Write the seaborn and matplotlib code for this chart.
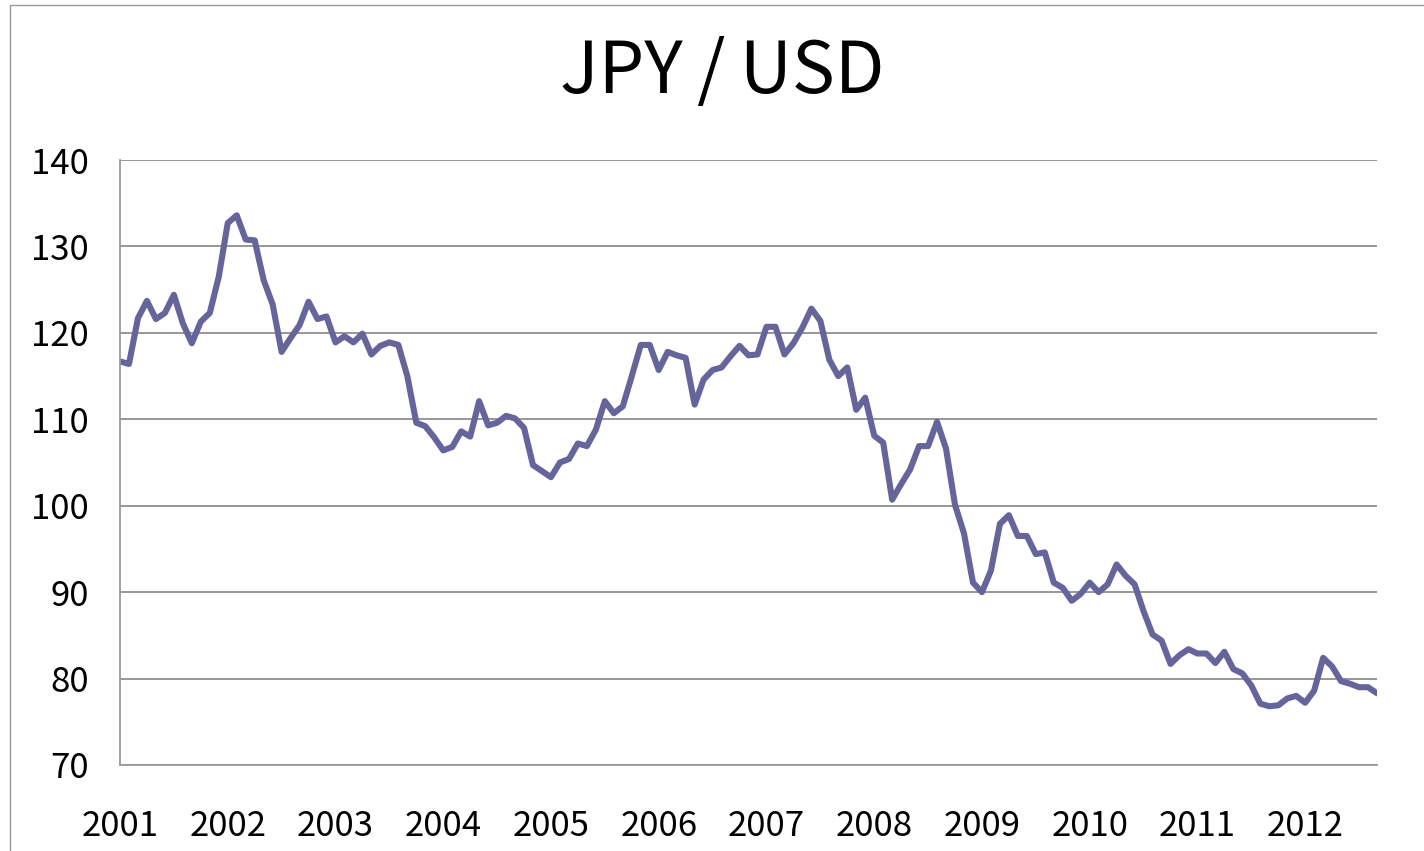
import numpy as np
import pandas as pd
import matplotlib.pyplot as plt
import seaborn as sns
from matplotlib.patches import Rectangle

# monthly JPY per USD, Jan 2001 - Sep 2012
years = [str(y) for y in range(2001, 2013)]
rate = [
    116.7, 116.4, 121.7, 123.7, 121.6, 122.3, 124.4, 121.1, 118.8, 121.3, 122.3, 126.5,  # 2001
    132.7, 133.6, 130.8, 130.7, 126.1, 123.3, 117.8, 119.4, 120.9, 123.6, 121.6, 121.9,  # 2002
    118.9, 119.6, 118.9, 119.9, 117.5, 118.5, 118.9, 118.6, 115.0, 109.6, 109.2, 107.9,  # 2003
    106.4, 106.8, 108.6, 108.0, 112.1, 109.3, 109.6, 110.4, 110.1, 109.0, 104.7, 104.0,  # 2004
    103.3, 105.0, 105.4, 107.2, 106.9, 108.8, 112.1, 110.7, 111.5, 115.0, 118.6, 118.6,  # 2005
    115.7, 117.8, 117.4, 117.1, 111.7, 114.6, 115.7, 116.0, 117.3, 118.5, 117.4, 117.5,  # 2006
    120.7, 120.7, 117.5, 118.8, 120.6, 122.8, 121.4, 116.9, 115.0, 116.0, 111.1, 112.5,  # 2007
    108.1, 107.3, 100.7, 102.5, 104.2, 106.9, 106.9, 109.7, 106.6, 100.1, 96.8, 91.1,    # 2008
    90.0, 92.5, 97.9, 98.9, 96.5, 96.5, 94.4, 94.6, 91.1, 90.5, 89.0, 89.8,              # 2009
    91.1, 90.0, 90.9, 93.2, 91.9, 90.9, 87.8, 85.1, 84.4, 81.7, 82.7, 83.4,              # 2010
    82.9, 82.9, 81.8, 83.1, 81.1, 80.6, 79.2, 77.1, 76.8, 76.9, 77.7, 78.0,              # 2011
    77.2, 78.6, 82.4, 81.4, 79.7, 79.4, 79.0, 79.0, 78.3,                                # 2012
]

df = pd.DataFrame({"month": np.arange(len(rate)), "rate": rate})

sns.set_style("white")
plt.rcParams["font.family"] = ["Noto Sans CJK JP", "DejaVu Sans"]
plt.rcParams["text.color"] = "black"

W, H = 1424, 851
fig = plt.figure(figsize=(W / 100, H / 100), dpi=100)

# thin chart border (cut off at right/bottom like the original)
fig.patches.append(Rectangle((10 / W, -0.02), 1.05, 1 - 5 / H + 0.02,
                             transform=fig.transFigure, fill=False,
                             edgecolor="#9a9a9a", linewidth=1))

ax = fig.add_axes([120 / W, 1 - 765 / H, (1377 - 120) / W, (765 - 160) / H])
sns.lineplot(data=df, x="month", y="rate", ax=ax, color="#65659b", linewidth=4.4)

ax.set_xlim(0, len(rate) - 1)
ax.set_ylim(70, 140)
ax.set_yticks(range(70, 141, 10))
ax.set_axisbelow(True)
ax.yaxis.grid(True, color="#8f8f8f", linewidth=1.3)

ax.set_xticks(np.arange(len(rate)), minor=True)
ax.set_xticks(np.arange(0, len(rate), 12))
ax.set_xticklabels(years)
ax.tick_params(axis="x", which="both", length=8.6, width=1, color="#9a9a9a", direction="out")
ax.tick_params(axis="x", which="major", labelsize=25, pad=23, labelcolor="black")
ax.tick_params(axis="y", length=8.6, width=1, color="#9a9a9a", labelsize=25, pad=14,
               labelcolor="black")

for s in ["top", "right"]:
    ax.spines[s].set_visible(False)
for s in ["left", "bottom"]:
    ax.spines[s].set_color("#9a9a9a")
    ax.spines[s].set_linewidth(1.3)

ax.set_xlabel("")
ax.set_ylabel("")

fig.text(0.507, 1 - 72 / H, "JPY\u2009/\u2009USD", ha="center", va="center",
         fontsize=52, color="black")

fig.savefig("out.png", dpi=100)
